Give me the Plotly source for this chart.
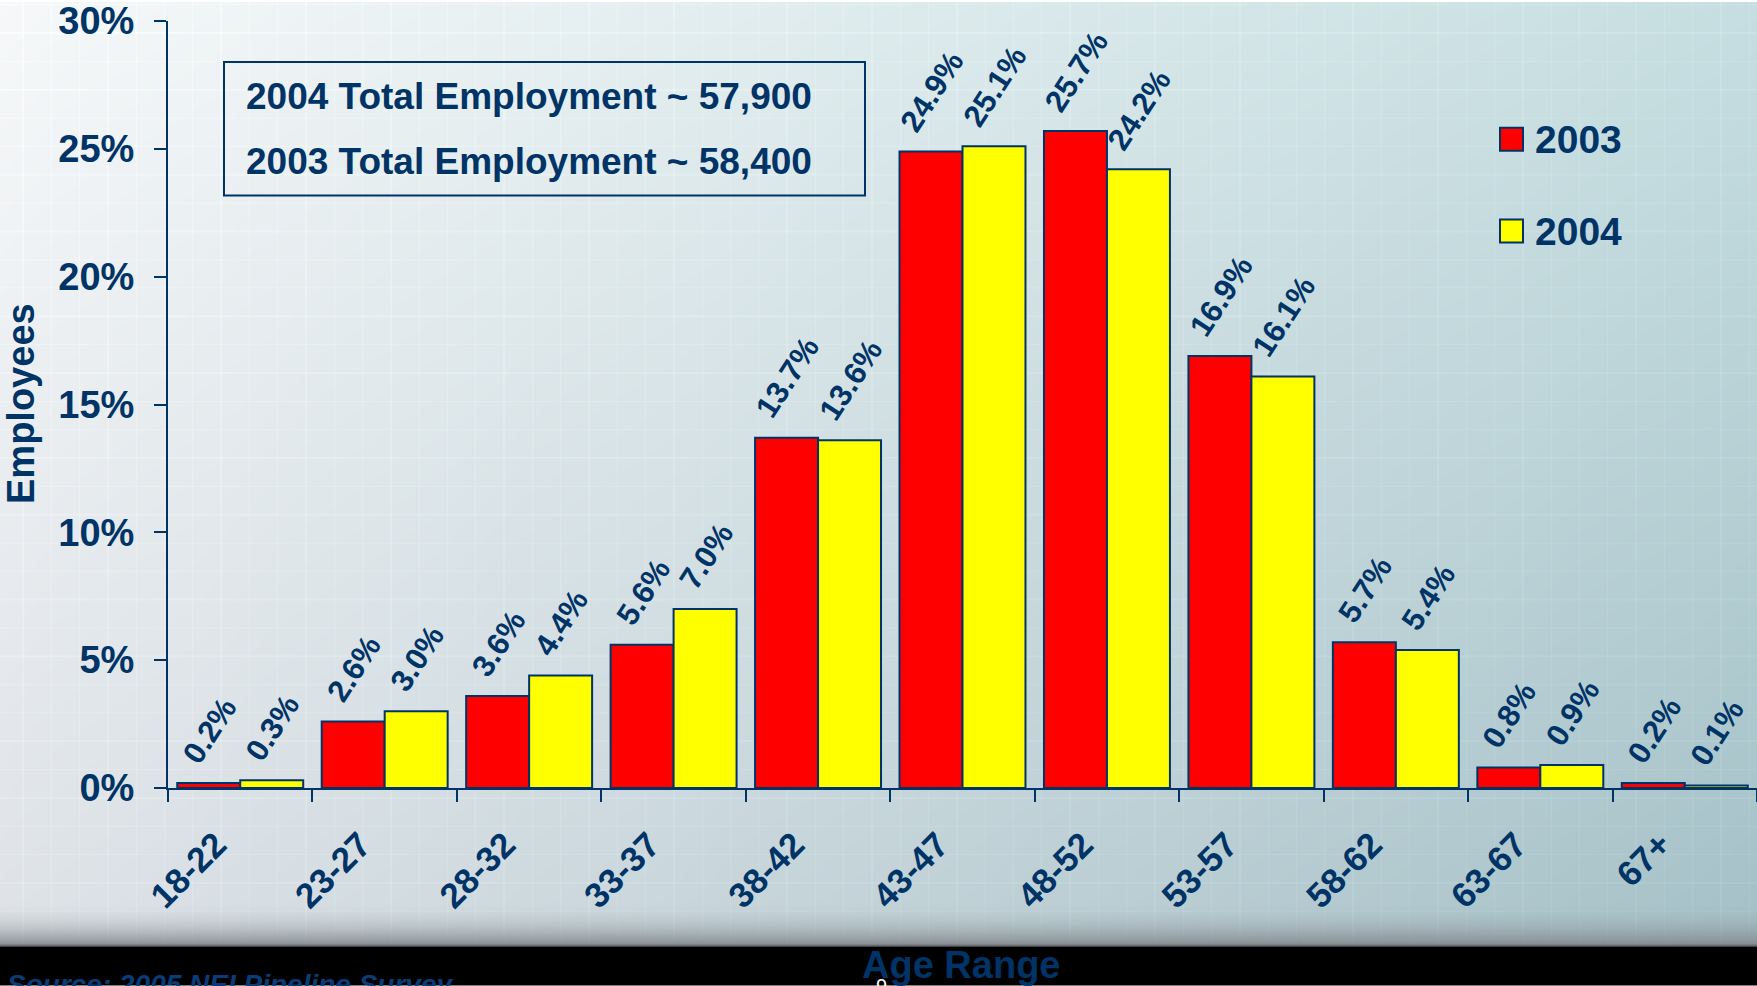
import base64
import struct
import zlib

import numpy as np
import plotly.graph_objects as go

# ---- data -------------------------------------------------------------
age_ranges = ["18-22", "23-27", "28-32", "33-37", "38-42", "43-47",
              "48-52", "53-57", "58-62", "63-67", "67+"]
share_2003 = [0.2, 2.6, 3.6, 5.6, 13.7, 24.9, 25.7, 16.9, 5.7, 0.8, 0.2]
share_2004 = [0.3, 3.0, 4.4, 7.0, 13.6, 25.1, 24.2, 16.1, 5.4, 0.9, 0.1]
y_ticks = [0, 5, 10, 15, 20, 25, 30]
total_lines = ["2004 Total Employment ~ 57,900",
               "2003 Total Employment ~ 58,400"]

# ---- page geometry ----------------------------------------------------
W, H = 1757, 986
ML, MR, MT, MB = 168, 0, 19, 198
PW, PH = W - ML - MR, H - MT - MB

NAVY = "#003366"
FONT = "Arial, Liberation Sans, sans-serif"


def px(x):
    return (x - ML) / PW


def py(y):
    return (H - MB - y) / PH


# ---- slide background (gradient + faint grid + dark footer) -----------
def background_png():
    xs = np.arange(W) / (W - 1)
    ys = np.clip(np.arange(H) / 900.0, 0, 1)
    tl = np.array([246, 248, 249], float)
    tr = np.array([198, 222, 225], float)
    bl = np.array([223, 227, 232], float)
    br = np.array([166, 194, 200], float)
    u = xs[None, :, None]
    v = ys[:, None, None]
    img = ((1 - u) * (1 - v) * tl + u * (1 - v) * tr
           + (1 - u) * v * bl + u * v * br)
    # faint lighter grid
    gx = ((np.arange(W) - 1635) % 28.3) < 1.3
    gy = ((np.arange(H) - 30) % 28.4) < 1.3
    img[:, gx, :] += 5
    img[gy, :, :] += 5
    # shading into the footer
    for y in range(900, 947):
        t = ((y - 900) / 47.0) ** 2.2
        img[y] = img[y] * (1 - t) + np.array([128, 134, 139]) * t
    img[945:947] = [105, 108, 112]
    img[947:] = 0
    raw = np.clip(np.round(img), 0, 255).astype(np.int16)
    sub = np.concatenate([raw[:, :1], (raw[:, 1:] - raw[:, :-1]) % 256], axis=1)
    rows = np.concatenate([np.ones((H, 1), np.uint8),
                           sub.astype(np.uint8).reshape(H, -1)], axis=1)

    def chunk(tag, data):
        return (struct.pack(">I", len(data)) + tag + data
                + struct.pack(">I", zlib.crc32(tag + data) & 0xFFFFFFFF))

    png = (b"\x89PNG\r\n\x1a\n"
           + chunk(b"IHDR", struct.pack(">IIBBBBB", W, H, 8, 2, 0, 0, 0))
           + chunk(b"IDAT", zlib.compress(rows.tobytes(), 9))
           + chunk(b"IEND", b""))
    return "data:image/png;base64," + base64.b64encode(png).decode()


# ---- figure -----------------------------------------------------------
fig = go.Figure()
fig.add_trace(go.Bar(x=age_ranges, y=share_2003, name="2003",
                     marker=dict(color="#FF0000", line=dict(color=NAVY, width=2))))
fig.add_trace(go.Bar(x=age_ranges, y=share_2004, name="2004",
                     marker=dict(color="#FFFF00", line=dict(color=NAVY, width=2))))

annotations = []
bar_half = PW / len(age_ranges) * (1 - 0.128) / 4
for series, shift in ((share_2003, -bar_half), (share_2004, bar_half)):
    for cat, val in zip(age_ranges, series):
        annotations.append(dict(
            x=cat, y=val, xref="x", yref="y", text=f"{val:.1f}%",
            showarrow=False, textangle=-57, xanchor="center", yanchor="bottom",
            xshift=shift + 1, yshift=12, borderpad=0,
            font=dict(family=FONT, size=31, color=NAVY, weight="bold")))

# totals box
for line, yc in zip(total_lines, (95, 160)):
    annotations.append(dict(
        x=px(244), y=py(yc), xref="paper", yref="paper", text=f"<b>{line}</b>",
        showarrow=False, xanchor="left", yanchor="middle",
        font=dict(family=FONT, size=37, color=NAVY)))

# legend
for label, color, yc in (("2003", "#FF0000", 138), ("2004", "#FFFF00", 230)):
    annotations.append(dict(
        x=px(1533), y=py(yc), xref="paper", yref="paper", text=f"<b>{label}</b>",
        showarrow=False, xanchor="left", yanchor="middle",
        font=dict(family=FONT, size=39, color=NAVY)))

# axis titles and footer
annotations += [
    dict(x=px(21), y=py(403), xref="paper", yref="paper", text="<b>Employees</b>",
         textangle=-90, showarrow=False, xanchor="center", yanchor="middle",
         font=dict(family=FONT, size=38, color=NAVY)),
    dict(x=px(961), y=py(943), xref="paper", yref="paper", text="<b>Age Range</b>",
         showarrow=False, xanchor="center", yanchor="top", borderpad=0,
         font=dict(family=FONT, size=38, color=NAVY)),
    dict(x=px(6), y=py(968), xref="paper", yref="paper",
         text="<b><i>Source: 2005 NEI Pipeline Survey</i></b>",
         showarrow=False, xanchor="left", yanchor="top", borderpad=0,
         font=dict(family=FONT, size=28, color="#0A3C78")),
    dict(x=px(881), y=py(974), xref="paper", yref="paper", text="9",
         showarrow=False, xanchor="center", yanchor="top", borderpad=0,
         font=dict(family=FONT, size=20, color="white")),
]

shapes = [
    dict(type="rect", xref="paper", yref="paper",
         x0=px(224), x1=px(865), y0=py(194), y1=py(60),
         line=dict(color=NAVY, width=2), fillcolor="rgba(0,0,0,0)"),
]
for color, y0 in (("#FF0000", 126), ("#FFFF00", 218)):
    shapes.append(dict(type="rect", xref="paper", yref="paper",
                       x0=px(1500), x1=px(1523), y0=py(y0 + 23), y1=py(y0),
                       line=dict(color=NAVY, width=2), fillcolor=color))

fig.update_layout(
    width=W, height=H, autosize=False,
    margin=dict(l=ML, r=MR, t=MT, b=MB),
    paper_bgcolor="white", plot_bgcolor="rgba(0,0,0,0)",
    barmode="group", bargap=0.128, bargroupgap=0,
    showlegend=False,
    font=dict(family=FONT, color=NAVY),
    annotations=annotations, shapes=shapes,
    images=[dict(source=background_png(), xref="paper", yref="paper",
                 x=-ML / PW, y=1 + MT / PH, sizex=W / PW, sizey=H / PH,
                 xanchor="left", yanchor="top", sizing="stretch", layer="below")],
    xaxis=dict(
        type="category", tickson="boundaries", showline=True, linecolor=NAVY,
        linewidth=2, ticks="outside", ticklen=12, tickwidth=2, tickcolor=NAVY,
        tickangle=-45, ticklabelstandoff=20, ticklabelshift=-24,
        ticklabeloverflow="allow", showgrid=False, zeroline=False,
        tickfont=dict(family=FONT, size=35, color=NAVY, weight="bold"),
    ),
    yaxis=dict(
        range=[0, 30], tickvals=y_ticks, ticktext=[f"{t}%" for t in y_ticks],
        showline=True, linecolor=NAVY, linewidth=2, ticks="outside",
        ticklen=12, tickwidth=2, tickcolor=NAVY, showgrid=False, zeroline=False,
        ticklabelstandoff=12, ticklabeloverflow="allow",
        tickfont=dict(family=FONT, size=38, color=NAVY, weight="bold"),
    ),
)

fig.write_html("out.html")
